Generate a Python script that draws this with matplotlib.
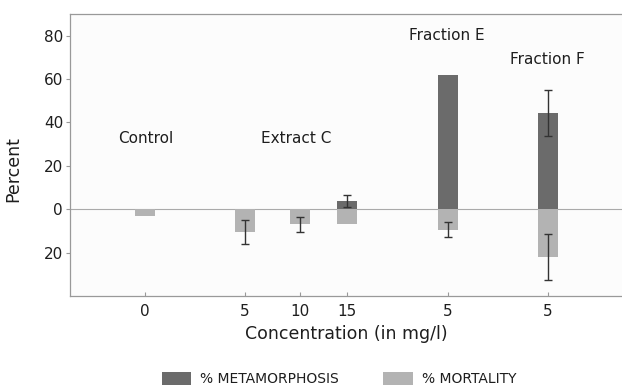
import matplotlib
matplotlib.use("Agg")
import matplotlib.pyplot as plt
from matplotlib.patches import Patch

plt.rcParams['font.family'] = ['DejaVu Sans']

# Data
groups = ["Control", "Extract C", "Extract C", "Extract C", "Fraction E", "Fraction F"]
tick_labels = ["0", "5", "10", "15", "5", "5"]
x_pos = [0.0, 1.0, 1.55, 2.02, 3.03, 4.03]
metamorphosis = [0.0, 0.3, 0.3, 3.8, 62.0, 44.3]
metamorphosis_err = [0, 0, 0, 2.7, 0, 10.6]
mortality = [3.3, 10.5, 7.0, 7.0, 9.4, 22.0]
mortality_err = [0, 5.4, 3.5, 0, 3.6, 10.8]
group_labels = ["Control", "Extract C", "Fraction E", "Fraction F"]
group_label_x = [0.01, 1.51, 3.02, 4.02]
group_label_y = [32.8, 32.8, 80, 69]
yticks = [80, 60, 40, 20, 0, -20]
ytick_labels = ["80", "60", "40", "20", "0", "20"]

dark = "#6b6b6b"
light = "#b3b3b3"
txt = "#1e1e1e"

fig = plt.figure(figsize=(6.22, 3.88), dpi=100)
ax = fig.add_axes([0.1125, 0.237, 0.8875, 0.727])
ax.set_facecolor("#fcfcfc")

w = 0.2
ax.bar(x_pos, metamorphosis, width=w, color=dark, zorder=2)
ax.bar(x_pos, [-m for m in mortality], width=w, color=light, zorder=2)

for xi, m, e in zip(x_pos, metamorphosis, metamorphosis_err):
    if e > 0:
        ax.errorbar(xi, m, yerr=e, fmt="none", ecolor="#333333", elinewidth=1.0,
                    capsize=3, capthick=1.0, zorder=3)
for xi, m, e in zip(x_pos, mortality, mortality_err):
    if e > 0:
        ax.errorbar(xi, -m, yerr=e, fmt="none", ecolor="#333333", elinewidth=1.0,
                    capsize=3, capthick=1.0, zorder=3)

ax.axhline(0, color="#aaaaaa", lw=0.8, zorder=1)

ax.set_xlim(-0.75, 4.77)
ax.set_ylim(-40, 90)
ax.set_yticks(yticks)
ax.set_yticklabels(ytick_labels, fontsize=11, color=txt)
ax.set_xticks(x_pos)
ax.set_xticklabels(tick_labels, fontsize=11, color=txt)
ax.tick_params(axis="y", direction="out", length=3, color="#999999", pad=2)
ax.tick_params(axis="x", direction="in", length=3, color="#999999", pad=6)

ax.spines["right"].set_visible(False)
for s in ["left", "top", "bottom"]:
    ax.spines[s].set_color("#999999")
    ax.spines[s].set_linewidth(0.9)

ax.set_ylabel("Percent", fontsize=12.5, color=txt)
ax.yaxis.set_label_coords(-0.087, 0.45)
ax.set_xlabel("Concentration (in mg/l)", fontsize=12.5, color=txt, labelpad=4)

for lab, gx, gy in zip(group_labels, group_label_x, group_label_y):
    ax.text(gx, gy, lab, ha="center", va="center", fontsize=11, color=txt)

handles = [Patch(facecolor=dark, edgecolor="none"), Patch(facecolor=light, edgecolor="none")]
fig.legend(handles, ["% METAMORPHOSIS", "% MORTALITY"], loc="lower center",
           bbox_to_anchor=(0.545, -0.028), ncol=2, frameon=False, fontsize=10,
           handlelength=2.1, handleheight=1.1, columnspacing=3.2, handletextpad=0.65,
           labelcolor=txt)

fig.savefig("out.png", dpi=100)
